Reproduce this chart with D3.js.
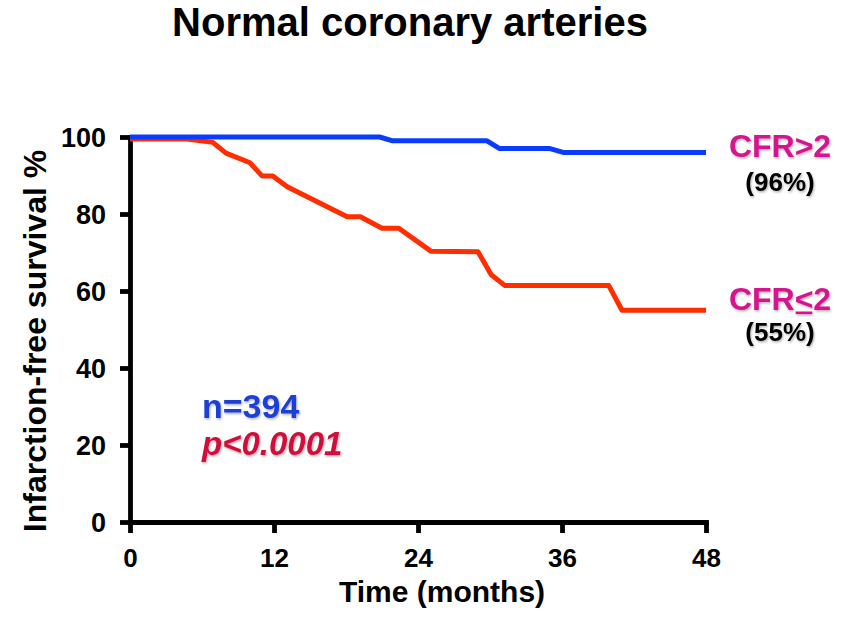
<!DOCTYPE html>
<html>
<head>
<meta charset="utf-8">
<script src="https://cdn.jsdelivr.net/npm/d3@7"></script>
<style>
  body { margin: 0; background: #fff; }
  svg text { font-family: "Liberation Sans", Arial, Helvetica, sans-serif; font-weight: bold; }
</style>
</head>
<body>
<svg id="chart" width="845" height="618"></svg>
<script>
// Axis ticks
const monthTicks = [0, 12, 24, 36, 48];
const survivalTicks = [0, 20, 40, 60, 80, 100];

// Kaplan-Meier curve, CFR > 2 (months, infarction-free survival %)
const highCfrTime     = [0, 20.8, 21.9, 29.75, 30.8, 35, 36.1, 48];
const highCfrSurvival = [100, 100, 99, 99, 97, 97, 96, 96];

// Kaplan-Meier curve, CFR <= 2
const lowCfrTime     = [0, 4.75, 6.9, 8, 10, 11, 11.9, 13.1, 18.1, 19.2, 21, 22.4, 25.1, 29, 30.1, 31.25, 39.9, 41, 48];
const lowCfrSurvival = [99.5, 99.5, 98.6, 95.8, 93.3, 89.9, 89.9, 87.1, 79.3, 79.3, 76.3, 76.3, 70.3, 70.2, 64.2, 61.4, 61.4, 55, 55];

// End-of-follow-up labels
const groupNames  = ["CFR>2", "CFR≤2"];
const groupFinals = [96, 55];

const svg = d3.select("#chart");

// Soft shadow used by the annotation texts
const defs = svg.append("defs");
defs.append("filter").attr("id", "soft").attr("x", "-10%").attr("y", "-20%").attr("width", "130%").attr("height", "160%")
  .append("feDropShadow").attr("dx", 1).attr("dy", 1.5).attr("stdDeviation", 1)
  .attr("flood-color", "#000").attr("flood-opacity", 0.3);

const x = d3.scaleLinear().domain([0, 48]).range([130, 706]);
const y = d3.scaleLinear().domain([0, 100]).range([522, 137]);

// Title
svg.append("text").attr("x", 410).attr("y", 36).attr("text-anchor", "middle")
  .attr("font-size", 40).attr("fill", "#000").text("Normal coronary arteries");

// Axes
const axisW = 4.8;
const xAxis = svg.append("g").attr("transform", `translate(0,${y(0)})`)
  .call(d3.axisBottom(x).tickValues(monthTicks).tickSize(11).tickSizeOuter(0).tickPadding(15));
const yAxis = svg.append("g").attr("transform", `translate(${x(0)},0)`)
  .call(d3.axisLeft(y).tickValues(survivalTicks).tickSize(10).tickSizeOuter(0).tickPadding(14));

[xAxis, yAxis].forEach(g => {
  g.select(".domain").attr("stroke", "#000").attr("stroke-width", axisW).attr("stroke-linecap", "square");
  g.selectAll(".tick line").attr("stroke", "#000").attr("stroke-width", axisW);
  g.selectAll(".tick text").attr("fill", "#000").attr("font-size", 26)
    .style("font-family", '"Liberation Sans", Arial, sans-serif').style("font-weight", "bold");
});
xAxis.selectAll(".tick text").attr("dy", "0.72em");
yAxis.selectAll(".tick text").attr("dy", "0.36em").attr("font-size", 27);

// Axis titles
svg.append("text").attr("x", 442).attr("y", 602).attr("text-anchor", "middle")
  .attr("font-size", 30).attr("fill", "#000").text("Time (months)");
svg.append("text").attr("transform", "translate(46,341) rotate(-90)").attr("text-anchor", "middle")
  .attr("font-size", 32).attr("fill", "#000").text("Infarction-free survival %");

// Survival curves
const line = d3.line().x(d => x(d[0])).y(d => y(d[1]));
const lowPts = lowCfrTime.map((t, i) => [t, lowCfrSurvival[i]]);
const highPts = highCfrTime.map((t, i) => [t, highCfrSurvival[i]]);

svg.append("path").datum(lowPts).attr("d", line)
  .attr("fill", "none").attr("stroke", "#FF2D00").attr("stroke-width", 5).attr("stroke-linejoin", "round");
svg.append("path").datum(highPts).attr("d", line)
  .attr("fill", "none").attr("stroke", "#0A3CFF").attr("stroke-width", 5).attr("stroke-linejoin", "round");

// Group labels at the right of each curve
const labelX = 780;
const hi = svg.append("g").attr("filter", "url(#soft)");
hi.append("text").attr("x", labelX).attr("y", 157).attr("text-anchor", "middle")
  .attr("font-size", 32).attr("fill", "#D4148E").text(groupNames[0]);
hi.append("text").attr("x", labelX).attr("y", 191).attr("text-anchor", "middle")
  .attr("font-size", 26).attr("fill", "#000").text(`(${groupFinals[0]}%)`);

const lo = svg.append("g").attr("filter", "url(#soft)");
const loText = lo.append("text").attr("x", labelX).attr("y", 310).attr("text-anchor", "middle")
  .attr("font-size", 32).attr("fill", "#D4148E");
loText.append("tspan").text("CFR");
const ltSpan = loText.append("tspan").text("<");
loText.append("tspan").text("2");
// underline beneath "<" to read as "less than or equal"
const bb = ltSpan.node().getBBox();
lo.append("rect").attr("x", bb.x + 1).attr("y", 311.5).attr("width", bb.width - 2).attr("height", 2.6)
  .attr("fill", "#D4148E");
lo.append("text").attr("x", labelX).attr("y", 341).attr("text-anchor", "middle")
  .attr("font-size", 26).attr("fill", "#000").text(`(${groupFinals[1]}%)`);

// Sample size and log-rank p value
const stats = svg.append("g").attr("filter", "url(#soft)");
stats.append("text").attr("x", 202).attr("y", 418).attr("font-size", 34)
  .attr("fill", "#1E3FD6").text("n=394");
stats.append("text").attr("x", 202).attr("y", 455).attr("font-size", 33)
  .attr("font-style", "italic").attr("fill", "#D0103A").text("p<0.0001");
</script>
</body>
</html>
